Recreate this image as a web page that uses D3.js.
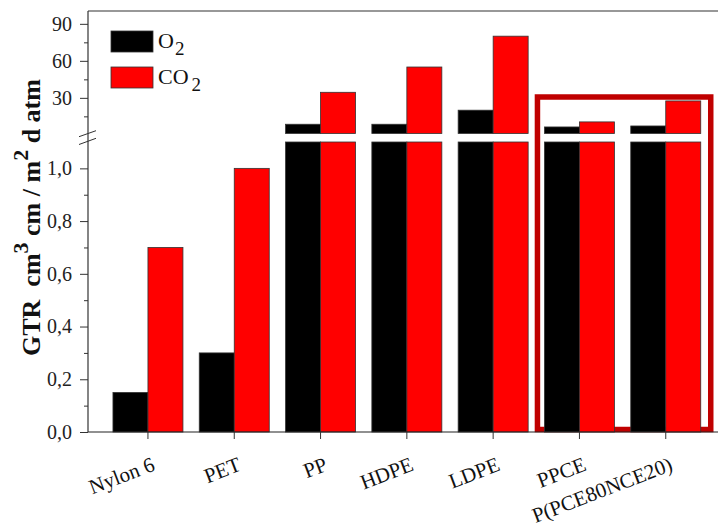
<!DOCTYPE html>
<html>
<head>
<meta charset="utf-8">
<script src="https://cdn.jsdelivr.net/npm/d3@7"></script>
<style>
  html, body { margin: 0; padding: 0; background: #fff; }
  svg { display: block; }
  text { font-family: "Liberation Serif", "Times New Roman", serif; }
</style>
</head>
<body>
<svg id="chart" width="718" height="530"></svg>
<script>
// Gas transmission rate per film, O2 and CO2
const categories = ["Nylon 6", "PET", "PP", "HDPE", "LDPE", "PPCE", "P(PCE80NCE20)"];
const o2Values  = [0.15, 0.30, 8.6, 8.6, 20.0, 6.4, 7.2];
const co2Values = [0.70, 1.00, 34.5, 55.0, 80.0, 10.5, 27.5];
const seriesNames = ["O2", "CO2"];
const seriesColors = ["#000000", "#ff0000"];

// broken y axis: a low segment and a high segment
const lowTicks = [0, 0.2, 0.4, 0.6, 0.8, 1.0];
const lowMinor = [0.1, 0.3, 0.5, 0.7, 0.9];
const highTicks = [30, 60, 90];
const highMinor = [15, 45, 75];
const breakLow = 1.1;    // top of the low segment
const highMax = 100;     // top of the high segment
const highlighted = ["PPCE", "P(PCE80NCE20)"];

const svg = d3.select("#chart");
const plotLeft = 88, plotRight = 718, plotTop = 11, plotBottom = 432;
const lowTop = 142, highBottom = 133.5;

const x = d3.scaleBand().domain(categories)
  .range([104.8, 708.9]).paddingInner(0.189).paddingOuter(0.0945);
const xs = d3.scaleBand().domain(seriesNames).range([0, x.bandwidth()]);
const yLow = d3.scaleLinear().domain([0, breakLow]).range([plotBottom, lowTop]);
const yHigh = d3.scaleLinear().domain([breakLow, highMax]).range([highBottom, 11.5]);

const comma = d => d3.format(".1f")(d).replace(".", ",");

// highlight frame around the two PPCE films (under the bars)
const hx0 = x(highlighted[0]) - 7;
const hx1 = x(highlighted[1]) + x.bandwidth() + 10;
svg.append("rect")
  .attr("x", hx0).attr("y", 97)
  .attr("width", hx1 - hx0).attr("height", 429.5 - 97)
  .attr("fill", "none").attr("stroke", "#c00000").attr("stroke-width", 5.5);

// bars, split at the axis break
const rows = [];
categories.forEach((c, i) => {
  rows.push({ cat: c, s: 0, v: o2Values[i] });
  rows.push({ cat: c, s: 1, v: co2Values[i] });
});
const bars = svg.append("g");
rows.forEach(r => {
  const bx = x(r.cat) + xs(seriesNames[r.s]);
  const w = xs.bandwidth();
  const lowV = Math.min(r.v, breakLow);
  bars.append("rect")
    .attr("x", bx).attr("width", w)
    .attr("y", yLow(lowV)).attr("height", yLow(0) - yLow(lowV))
    .attr("fill", seriesColors[r.s]).attr("stroke", "#333").attr("stroke-width", 0.8);
  if (r.v > breakLow) {
    bars.append("rect")
      .attr("x", bx).attr("width", w)
      .attr("y", yHigh(r.v)).attr("height", yHigh(breakLow) - yHigh(r.v))
      .attr("fill", seriesColors[r.s]).attr("stroke", "#333").attr("stroke-width", 0.8);
  }
});

// frame lines
svg.append("line").attr("x1", plotLeft).attr("x2", plotRight).attr("y1", plotTop).attr("y2", plotTop)
  .attr("stroke", "#333").attr("stroke-width", 1.2);
svg.append("line").attr("x1", plotLeft).attr("x2", plotRight).attr("y1", plotBottom).attr("y2", plotBottom)
  .attr("stroke", "#222").attr("stroke-width", 1.2);

// left axes
function styleAxis(g) {
  g.select(".domain").remove();
  g.selectAll(".tick line").attr("stroke", "#333").attr("stroke-width", 1);
  g.selectAll(".tick text").attr("font-size", 20).attr("fill", "#222")
    .attr("font-family", "Liberation Serif");
}
svg.append("g").attr("transform", `translate(${plotLeft},0)`)
  .call(d3.axisLeft(yLow).tickValues(lowTicks).tickFormat(comma).tickSize(8).tickPadding(8))
  .call(styleAxis);
svg.append("g").attr("transform", `translate(${plotLeft},0)`)
  .call(d3.axisLeft(yLow).tickValues(lowMinor).tickFormat("").tickSize(4))
  .call(styleAxis);
svg.append("g").attr("transform", `translate(${plotLeft},0)`)
  .call(d3.axisLeft(yHigh).tickValues(highTicks).tickFormat(d3.format("d")).tickSize(8).tickPadding(8))
  .call(styleAxis);
svg.append("g").attr("transform", `translate(${plotLeft},0)`)
  .call(d3.axisLeft(yHigh).tickValues(highMinor).tickFormat("").tickSize(4))
  .call(styleAxis);
svg.append("line").attr("x1", plotLeft).attr("x2", plotLeft).attr("y1", plotTop).attr("y2", plotBottom)
  .attr("stroke", "#333").attr("stroke-width", 1.2);

// break marks on the y axis
[[136.7, 130.7], [144.5, 138.3]].forEach(([ya, yb]) => {
  svg.append("line").attr("x1", 79).attr("y1", ya).attr("x2", 96).attr("y2", yb)
    .attr("stroke", "#333").attr("stroke-width", 1);
});

// bottom axis ticks
const xAxis = svg.append("g").attr("transform", `translate(0,${plotBottom})`)
  .call(d3.axisBottom(x).tickSize(7).tickFormat(""));
xAxis.select(".domain").remove();
xAxis.selectAll(".tick line").attr("stroke", "#333");

// slanted category labels, right end just past each tick
svg.append("g").selectAll("text").data(categories).join("text")
  .attr("text-anchor", "end")
  .attr("font-size", 21).attr("fill", "#111")
  .attr("transform", d => `translate(${x(d) + x.bandwidth() / 2 + 8},${plotBottom + 38}) rotate(-21)`)
  .text(d => d);

// legend
const legend = svg.append("g");
seriesNames.forEach((n, i) => {
  const ly = 31 + i * 36;
  legend.append("rect").attr("x", 111).attr("y", ly).attr("width", 42).attr("height", 21)
    .attr("fill", seriesColors[i]).attr("stroke", "#333").attr("stroke-width", 0.8);
  const t = legend.append("text").attr("x", 158).attr("y", ly + 17)
    .attr("font-size", 22).attr("fill", "#111");
  t.append("tspan").text(n.slice(0, -1));
  t.append("tspan").attr("dx", i === 1 ? 3 : 1).attr("dy", 7).attr("font-size", 19).text("2");
});

// y axis title
const yt = svg.append("text")
  .attr("transform", "translate(40,356) rotate(-90)")
  .attr("text-anchor", "start").attr("font-weight", "bold")
  .attr("font-size", 26).attr("fill", "#111");
yt.append("tspan").text("GTR\u00a0\u00a0cm");
yt.append("tspan").attr("dy", -12).attr("font-size", 22).text("3");
yt.append("tspan").attr("dy", 12).text(" cm / m");
yt.append("tspan").attr("dy", -12).attr("font-size", 22).text("2");
yt.append("tspan").attr("dy", 12).text(" d atm");
</script>
</body>
</html>
